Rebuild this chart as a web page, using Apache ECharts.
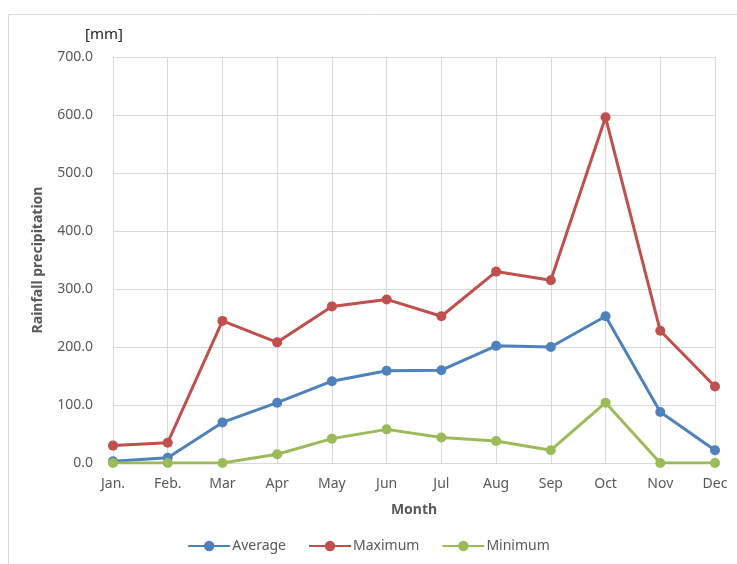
<!DOCTYPE html>
<html style="height:100%;">
<head>
    <meta charset="utf-8">
    <script src="https://cdn.jsdelivr.net/npm/echarts@6/dist/echarts.min.js"></script>
</head>
<body style="height:100%;margin:0;">
    <div id="main" style="width:737px;height:564px;"></div>
<script>
    // months and rainfall values [mm]
    var months = ['Jan.', 'Feb.', 'Mar', 'Apr', 'May', 'Jun', 'Jul', 'Aug', 'Sep', 'Oct', 'Nov', 'Dec'];
    var average = [3, 9, 70, 104, 141, 159, 160, 202, 200, 253, 88, 22];
    var maximum = [30, 35, 245, 208, 270, 282, 253, 330, 315, 596, 228, 132];
    var minimum = [0, 0, 0, 15, 42, 58, 44, 38, 22, 104, 0, 0];

    var font = 'Noto Sans';
    var txt = '#595959';

    function line(name, data, color) {
        return {
            name: name,
            type: 'line',
            data: data,
            symbol: 'circle',
            symbolSize: 10,
            lineStyle: { width: 3, color: color },
            itemStyle: { color: color },
            z: 3
        };
    }

    var chart = echarts.init(document.getElementById('main'));
    chart.setOption({
        backgroundColor: '#FFFFFF',
        animation: false,
        textStyle: { fontFamily: font },
        graphic: [{
            type: 'rect',
            shape: { x: 8.5, y: 14.5, width: 740, height: 560 },
            style: { fill: 'none', stroke: '#d9d9d9', lineWidth: 1 }
        }],
        title: {
            text: '[mm]',
            left: 80,
            top: 22,
            textStyle: { fontFamily: font, fontSize: 15, fontWeight: 'normal', color: '#222' }
        },
        grid: { left: 113, right: 22, top: 57, bottom: 101 },
        legend: {
            bottom: 6,
            left: 'center',
            itemWidth: 42,
            itemHeight: 13,
            itemGap: 22,
            textStyle: { fontFamily: font, fontSize: 14, color: txt, padding: [0, 0, 0, -3] },
            data: ['Average', 'Maximum', 'Minimum']
        },
        xAxis: {
            type: 'category',
            data: months,
            boundaryGap: false,
            name: 'Month',
            nameLocation: 'middle',
            nameGap: 40,
            nameTextStyle: { fontFamily: font, fontSize: 14, fontWeight: 'bold', color: txt },
            axisLine: { show: false },
            axisTick: { show: false },
            axisLabel: { fontSize: 14, color: txt, margin: 14 },
            splitLine: { show: true, lineStyle: { color: '#d9d9d9', width: 1 } }
        },
        yAxis: {
            type: 'value',
            min: 0,
            max: 700,
            interval: 100,
            name: 'Rainfall precipitation',
            nameLocation: 'middle',
            nameRotate: 90,
            nameGap: 68,
            nameTextStyle: { fontFamily: font, fontSize: 14, fontWeight: 'bold', color: txt },
            axisLine: { show: false },
            axisTick: { show: false },
            axisLabel: {
                fontSize: 14, color: txt, margin: 20,
                formatter: function (v) { return v.toFixed(1); }
            },
            splitLine: { lineStyle: { color: '#d9d9d9', width: 1 } }
        },
        series: [
            line('Average', average, '#4F81BD'),
            line('Maximum', maximum, '#C0504D'),
            line('Minimum', minimum, '#9BBB59')
        ]
    });
</script>
</body>
</html>
